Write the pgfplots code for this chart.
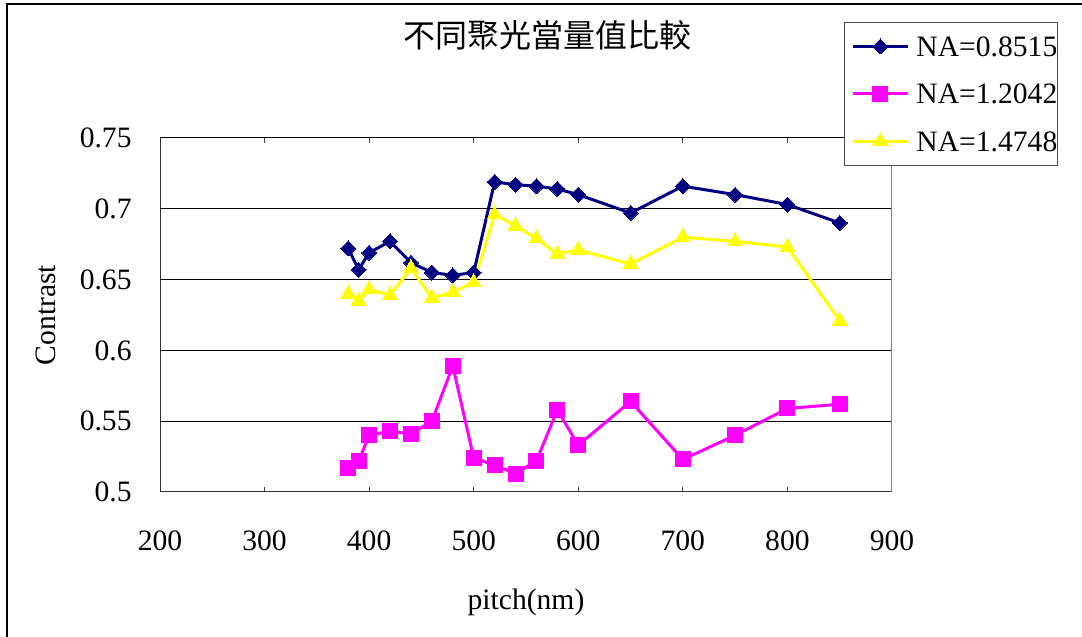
\documentclass[border=0pt]{standalone}
\usepackage{fontspec}
\setmainfont{Liberation Serif}
\newfontfamily\cjk{Noto Sans CJK TC}
\usepackage{pgfplots}
\pgfplotsset{compat=1.18}

\definecolor{naNavy}{RGB}{0,0,128}
\definecolor{naPink}{RGB}{255,0,255}
\definecolor{naYellow}{RGB}{255,255,0}

\newcommand{\lblfont}{\fontsize{14.8pt}{17pt}\selectfont}

\begin{document}
\begin{tikzpicture}
  % page area (1 px = 0.5 pt)
  \useasboundingbox (0,0) rectangle (541pt,318.5pt);
  \fill[white] (0,0) rectangle (541pt,318.5pt);
  % chart frame (its right and bottom edges lie off the page)
  \draw[line width=1pt, black] (3.5pt,-5pt) -- (3.5pt,316.5pt) -- (560pt,316.5pt);

  \begin{axis}[
    at={(80pt,72.5pt)}, anchor=south west,
    scale only axis, width=366pt, height=177pt,
    xmin=200, xmax=900, ymin=0.5, ymax=0.75,
    xtick={200,300,400,500,600,700,800,900},
    ytick={0.5,0.55,0.6,0.65,0.7,0.75},
    yticklabels={0.5,0.55,0.6,0.65,0.7,0.75},
    /pgf/number format/assume math mode=true,
    axis line style={draw=none},
    tick align=inside,
    xtick style={draw=black!75, line width=0.5pt},
    major tick length=2.5pt,
    ytick style={draw=none},
    ymajorgrids,
    major grid style={black, line width=0.5pt},
    tick label style={font=\lblfont, inner sep=0pt},
    xticklabel style={anchor=north, yshift=-19pt},
    yticklabel style={anchor=east, xshift=-14pt},
    xlabel={pitch(nm)},
    ylabel={Contrast},
    every axis x label/.style={at={(axis description cs:0.5,-0.3107)},
                               anchor=center, font=\lblfont},
    every axis y label/.style={at={(axis description cs:-0.1557,0.5)},
                               anchor=center, rotate=90, font=\lblfont},
    title={\cjk 不同聚光當量值比較},
    title style={at={(rel axis cs:0.5,1)}, anchor=center, xshift=11pt, yshift=45.5pt,
                 font=\fontsize{16pt}{18pt}\selectfont},
    legend style={at={(0.9344,1.3277)}, anchor=north west,
      draw=black!70, line width=0.5pt, fill=white,
      inner xsep=3.5pt, inner ysep=7pt, row sep=13.75pt,
      font=\lblfont,
      nodes={inner sep=0pt, text height=10pt, text depth=0pt},
      /tikz/every odd column/.append style={column sep=3.5pt},
      /tikz/every even column/.append style={text width=67pt, align=left}},
    legend cell align=left,
    legend image code/.code={%
      \draw[mark repeat=2, mark phase=2, #1]
        plot coordinates {(0pt,0pt) (13.75pt,0pt) (27.5pt,0pt)};},
    every axis plot/.append style={line width=1.5pt},
  ]
    \draw[line width=1pt, black!80] (rel axis cs:0,1) -- (rel axis cs:0,0) -- (rel axis cs:1,0);
    \draw[line width=1pt, gray] (rel axis cs:1,0) -- (rel axis cs:1,1);

    \addplot[naNavy, mark=square*, mark size=2.65pt,
             mark options={rotate=45, solid, line width=0pt}]
      coordinates {(380,0.672)(390,0.657)(400,0.669)(420,0.677)(440,0.662)
                   (460,0.655)(480,0.653)(500,0.655)(520,0.719)(540,0.717)
                   (560,0.716)(580,0.714)(600,0.710)(650,0.697)(700,0.716)
                   (750,0.710)(800,0.703)(850,0.690)};
    \addlegendentry{NA=0.8515}

    \addplot[naPink, mark=square*, mark size=3.75pt,
             mark options={solid, line width=0pt}]
      coordinates {(380,0.517)(390,0.522)(400,0.540)(420,0.543)(440,0.541)
                   (460,0.550)(480,0.589)(500,0.524)(520,0.519)(540,0.513)
                   (560,0.522)(580,0.558)(600,0.533)(650,0.564)(700,0.523)
                   (750,0.540)(800,0.559)(850,0.562)};
    \addlegendentry{NA=1.2042}

    \addplot[naYellow, mark=triangle*, mark size=4.4pt,
             mark options={solid, line width=0pt}]
      coordinates {(380,0.640)(390,0.635)(400,0.643)(420,0.639)(440,0.658)
                   (460,0.637)(480,0.641)(500,0.648)(520,0.696)(540,0.688)
                   (560,0.679)(580,0.668)(600,0.671)(650,0.661)(700,0.680)
                   (750,0.677)(800,0.673)(850,0.621)};
    \addlegendentry{NA=1.4748}
  \end{axis}
\end{tikzpicture}
\end{document}
